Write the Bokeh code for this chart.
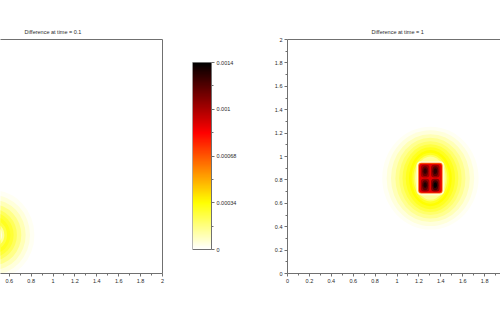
import numpy as np
from bokeh.plotting import figure
from bokeh.models import LinearColorMapper, FixedTicker, LinearAxis, Range1d, ColumnDataSource
from bokeh.layouts import row
from bokeh.embed import file_html
from bokeh.resources import INLINE

# ---------------- data ----------------
VMAX = 0.00136
title_left = "Difference at time = 0.1"
title_right = "Difference at time = 1"

axis_ticks = [0, 0.2, 0.4, 0.6, 0.8, 1.0, 1.2, 1.4, 1.6, 1.8, 2.0]
axis_tick_labels = ["0", "0.2", "0.4", "0.6", "0.8", "1", "1.2", "1.4", "1.6", "1.8", "2"]
axis_minor = [0.1, 0.3, 0.5, 0.7, 0.9, 1.1, 1.3, 1.5, 1.7, 1.9]

cb_ticks = [0, 0.00034, 0.00068, 0.00102, 0.00136]
cb_tick_labels = ["0", "0.00034", "0.00068", "0.001", "0.0014"]
cb_minor = [0.00017, 0.00051, 0.00085, 0.00119]

# time = 0.1 : halo (concentric layers, outer -> inner)
left_cx, left_cy = 0.45, 0.33
left_r = [0.38, 0.34, 0.30, 0.26, 0.22, 0.19, 0.16, 0.13, 0.105, 0.085]
left_v = [0.00002, 0.00005, 0.00010, 0.00016, 0.00022, 0.00027, 0.00030, 0.00025, 0.00013, 0.00005]

# time = 1 : halo (concentric layers, outer -> inner)
right_cx, right_cy = 1.305, 0.815
right_rx = [0.44, 0.40, 0.36, 0.32, 0.285, 0.255, 0.225, 0.195, 0.172, 0.155, 0.14]
right_ry = [0.44, 0.41, 0.375, 0.345, 0.315, 0.29, 0.265, 0.24, 0.218, 0.20, 0.185]
right_v = [0.00002, 0.00005, 0.00010, 0.00015, 0.00020, 0.00025, 0.00030, 0.00034, 0.00030, 0.00022, 0.00014]

# time = 1 : pale ring and core (rectangular layers)
ring_w = [0.255, 0.238]
ring_h = [0.295, 0.278]
ring_v = [0.00009, 0.00004]
core_w = [0.222, 0.208]
core_h = [0.262, 0.248]
core_v = [0.00066, 0.00090]
spot_x = [1.257, 1.350, 1.257, 1.350]
spot_y = [0.875, 0.875, 0.755, 0.755]
spot_w = [0.078, 0.078, 0.078, 0.078]
spot_h = [0.108, 0.108, 0.108, 0.108]
spot_v = [0.00104, 0.00106, 0.00106, 0.00110]
spot_mid_w = [0.055, 0.055, 0.055, 0.055]
spot_mid_h = [0.085, 0.085, 0.085, 0.085]
spot_mid_v = [0.00116, 0.00118, 0.00119, 0.00124]
spot_in_w = [0.03, 0.03, 0.03, 0.03]
spot_in_h = [0.05, 0.05, 0.05, 0.05]
spot_in_v = [0.00126, 0.00128, 0.00130, 0.00136]

# ---------------- colour map (reversed "hot") ----------------
def hot_rev(n=256):
    pal = []
    for i in range(n):
        s = 1 - i / (n - 1)
        r = min(max(s / 0.375, 0), 1)
        g = min(max((s - 0.375) / 0.375, 0), 1)
        b = min(max((s - 0.75) / 0.25, 0), 1)
        pal.append("#%02x%02x%02x" % (int(round(r * 255)), int(round(g * 255)), int(round(b * 255))))
    return pal

mapper = LinearColorMapper(palette=hot_rev(), low=0, high=VMAX)
FONT = "Liberation Sans"
LINE = "#707070"
TXT = "#2a2a2a"
overrides = {t: l for t, l in zip(axis_ticks, axis_tick_labels)}


def style_axis(ax, ticks=True):
    ax.axis_line_color = LINE
    ax.axis_line_width = 1
    ax.major_tick_line_color = LINE if ticks else None
    ax.minor_tick_line_color = LINE if ticks else None
    ax.major_tick_out = 3
    ax.major_tick_in = 0
    ax.minor_tick_out = 2
    ax.minor_tick_in = 0
    ax.major_label_text_font = FONT
    ax.major_label_text_font_size = "5.5px"
    ax.major_label_text_color = TXT
    ax.major_label_standoff = 2


def line_axis():
    ax = LinearAxis(ticker=FixedTicker(ticks=[]))
    style_axis(ax, ticks=False)
    ax.major_label_text_font_size = "0px"
    return ax


def base_fig(width, xr, title, offset, mbl, mbr):
    p = figure(width=width, height=312, x_range=xr, y_range=Range1d(0, 2),
               output_backend="svg", toolbar_location=None,
               min_border_left=mbl, min_border_right=mbr,
               min_border_top=39, min_border_bottom=39)
    p.xgrid.visible = False
    p.ygrid.visible = False
    p.outline_line_color = None
    p.background_fill_color = "white"
    p.border_fill_color = "white"
    p.title.text = title
    p.title.align = "left"
    p.title.offset = offset
    p.title.standoff = 9
    p.title.text_font = FONT
    p.title.text_font_size = "5.5px"
    p.title.text_font_style = "normal"
    p.title.text_color = TXT
    p.xaxis.ticker = FixedTicker(ticks=axis_ticks, minor_ticks=axis_minor)
    p.xaxis.major_label_overrides = overrides
    for ax in p.xaxis:
        style_axis(ax)
    p.add_layout(line_axis(), "above")
    return p


# ---------------- left plot (time = 0.1) ----------------
left = base_fig(180, Range1d(0.52, 2.0), title_left, 24, 0, 18)
left.yaxis.visible = False
left.add_layout(line_axis(), "right")
src_l = ColumnDataSource(dict(x=[left_cx] * len(left_r), y=[left_cy] * len(left_r),
                              w=[2 * r for r in left_r], h=[2 * r for r in left_r], v=left_v))
left.ellipse(x="x", y="y", width="w", height="h", source=src_l,
             fill_color={"field": "v", "transform": mapper}, line_color=None)

# ---------------- colour bar ----------------
# frame spans the same height as the plots; the bar covers 0..VMAX inside it
cb_lo = -VMAX * 24.0 / 187.0
cb_hi = VMAX + VMAX * 23.0 / 187.0
cb = figure(width=80, height=312, x_range=Range1d(0, 1), y_range=Range1d(cb_lo, cb_hi),
            output_backend="svg", toolbar_location=None,
            x_axis_location=None, y_axis_location="right",
            min_border_left=12, min_border_right=49, min_border_top=39, min_border_bottom=39)
cb.xgrid.visible = False
cb.ygrid.visible = False
cb.outline_line_color = None
grad = np.linspace(0, VMAX, 256).reshape(-1, 1)
cb.image(image=[grad], x=0, y=0, dw=1, dh=VMAX, color_mapper=mapper)
cb.rect(x=0.5, y=VMAX / 2, width=1, height=VMAX, fill_color=None, line_color=LINE, line_width=1)
cb.yaxis.ticker = FixedTicker(ticks=cb_ticks, minor_ticks=cb_minor)
cb.yaxis.major_label_overrides = {t: l for t, l in zip(cb_ticks, cb_tick_labels)}
for ax in cb.yaxis:
    style_axis(ax)
    ax.bounds = (0, VMAX)

# ---------------- right plot (time = 1) ----------------
right = base_fig(240, Range1d(0, 1.945), title_right, 84, 27, 0)
right.yaxis.ticker = FixedTicker(ticks=axis_ticks, minor_ticks=axis_minor)
right.yaxis.major_label_overrides = overrides
for ax in right.yaxis:
    style_axis(ax)

n = len(right_rx)
src_h = ColumnDataSource(dict(x=[right_cx] * n, y=[right_cy] * n,
                              w=[2 * r for r in right_rx], h=[2 * r for r in right_ry], v=right_v))
right.ellipse(x="x", y="y", width="w", height="h", source=src_h,
              fill_color={"field": "v", "transform": mapper}, line_color=None)
src_r = ColumnDataSource(dict(x=[right_cx] * 2, y=[right_cy] * 2, w=ring_w, h=ring_h, v=ring_v))
right.rect(x="x", y="y", width="w", height="h", source=src_r, border_radius=5,
           fill_color={"field": "v", "transform": mapper}, line_color=None)
src_c = ColumnDataSource(dict(x=[right_cx] * 2, y=[right_cy] * 2, w=core_w, h=core_h, v=core_v))
right.rect(x="x", y="y", width="w", height="h", source=src_c, border_radius=3,
           fill_color={"field": "v", "transform": mapper}, line_color=None)
src_s = ColumnDataSource(dict(x=spot_x, y=spot_y, w=spot_w, h=spot_h, v=spot_v))
right.rect(x="x", y="y", width="w", height="h", source=src_s, border_radius=3,
           fill_color={"field": "v", "transform": mapper}, line_color=None)
src_sm = ColumnDataSource(dict(x=spot_x, y=spot_y, w=spot_mid_w, h=spot_mid_h, v=spot_mid_v))
right.ellipse(x="x", y="y", width="w", height="h", source=src_sm,
              fill_color={"field": "v", "transform": mapper}, line_color=None)
src_si = ColumnDataSource(dict(x=spot_x, y=spot_y, w=spot_in_w, h=spot_in_h, v=spot_in_v))
right.ellipse(x="x", y="y", width="w", height="h", source=src_si,
              fill_color={"field": "v", "transform": mapper}, line_color=None)

layout = row(left, cb, right)
open("out.html", "w").write(file_html(layout, INLINE))
